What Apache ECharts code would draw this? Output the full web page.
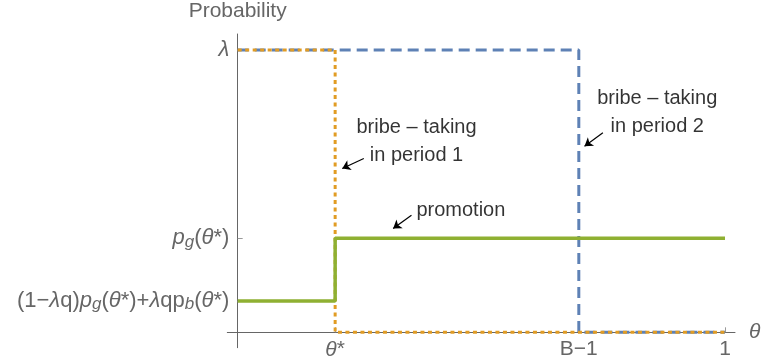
<!DOCTYPE html>
<html>
<head>
<meta charset="utf-8">
<script src="https://cdn.jsdelivr.net/npm/echarts@6/dist/echarts.min.js"></script>
<style>
  html, body { margin: 0; padding: 0; background: #fff; }
  #chart { width: 762px; height: 364px; }
</style>
</head>
<body>
<div id="chart"></div>
<script>
// levels (lambda normalised to 1)
const lambda = 1;
const pgLevel = 0.333;
const lowLevel = 0.111;
const thetaStar = 0.2;
const bMinus1 = 0.7;

// step curves
const period1 = [[0, lambda], [thetaStar, lambda], [thetaStar, 0], [1, 0]];
const period2 = [[0, lambda], [bMinus1, lambda], [bMinus1, 0], [1, 0]];
const promotion = [[0, lowLevel], [thetaStar, lowLevel], [thetaStar, pgLevel], [1, pgLevel]];

// ticks
const xTicks = [thetaStar, bMinus1, 1];
const xTickLabels = ['{i|θ}{n|*}', '{n|B−1}', '{n|1}'];
const yTicks = [lowLevel, pgLevel, lambda];
const yTickLabels = [
  '{n|(1−}{i|λ}{n|q)}{i|p}{sub|g}{n|(}{i|θ}{n|*)+}{i|λ}{n|qp}{sub|b}{n|(}{i|θ}{n|*)}',
  '{i|p}{sub|g}{n|(}{i|θ}{n|*)}',
  '{i|λ}'
];

// annotations (data coords)
const notes = [
  { name: 'bribe – taking\nin period 1', value: [0.367, 0.676] },
  { name: 'bribe – taking\nin period 2', value: [0.861, 0.778] },
  { name: 'promotion', value: [0.458, 0.433] }
];
const arrows = [
  [[0.2588, 0.6160], [0.2146, 0.5805]],
  [[0.7494, 0.7068], [0.7117, 0.6596]],
  [[0.3566, 0.4149], [0.3190, 0.3677]]
];

const font = 'Liberation Sans, Arial, sans-serif';
const grey = '#666666';
function richFor(size, subSize) {
  return {
    n: { fontFamily: font, fontSize: size, color: grey, lineHeight: 24 },
    i: { fontFamily: font, fontSize: size, color: grey, fontStyle: 'italic', lineHeight: 24 },
    sub: { fontFamily: font, fontSize: subSize, color: grey, fontStyle: 'italic', lineHeight: 14, verticalAlign: 'bottom' }
  };
}

const chart = echarts.init(document.getElementById('chart'), null, { renderer: 'canvas' });

chart.setOption({
  animation: false,
  backgroundColor: '#fff',
  grid: { left: 227.3, right: 27, top: 34, bottom: 16.3, containLabel: false, outerBoundsMode: 'none' },
  xAxis: {
    type: 'value',
    min: -0.0213,
    max: 1.0205,
    name: 'θ',
    nameLocation: 'end',
    nameGap: 14,
    nameTextStyle: { fontFamily: font, fontSize: 21, color: grey, fontStyle: 'italic', align: 'left', verticalAlign: 'middle' },
    splitLine: { show: false },
    axisLine: { onZero: true, lineStyle: { color: grey, width: 1 } },
    axisTick: { inside: true, length: 5, customValues: xTicks, lineStyle: { color: '#999' } },
    axisLabel: {
      customValues: xTicks,
      margin: -10,
      formatter: v => xTickLabels[xTicks.indexOf(v)] || '',
      rich: richFor(21, 15)
    }
  },
  yAxis: {
    type: 'value',
    min: -0.0545,
    max: 1.057,
    name: 'Probability',
    nameLocation: 'end',
    nameGap: 12,
    nameTextStyle: { fontFamily: font, fontSize: 21, color: grey, align: 'center', verticalAlign: 'bottom' },
    splitLine: { show: false },
    axisLine: { onZero: true, lineStyle: { color: grey, width: 1 } },
    axisTick: { inside: true, length: 5, customValues: yTicks, lineStyle: { color: '#999' } },
    axisLabel: {
      customValues: yTicks,
      margin: -2,
      formatter: v => yTickLabels[yTicks.indexOf(v)] || '',
      rich: richFor(22, 17)
    }
  },
  series: [
    {
      name: 'period 2',
      type: 'line',
      data: period2,
      showSymbol: false,
      symbol: 'none',
      lineStyle: { color: '#5E81B5', width: 3, type: [11, 6] },
      z: 2
    },
    {
      name: 'period 1',
      type: 'line',
      data: period1,
      showSymbol: false,
      symbol: 'none',
      lineStyle: { color: '#E19C24', width: 3, type: [4, 3.5] },
      z: 3
    },
    {
      name: 'promotion',
      type: 'line',
      data: promotion,
      showSymbol: false,
      symbol: 'none',
      lineStyle: { color: '#8FB032', width: 3.5 },
      z: 4
    },
    {
      type: 'lines',
      coordinateSystem: 'cartesian2d',
      data: arrows.map(c => ({ coords: c })),
      symbol: ['none', 'arrow'],
      symbolSize: 8,
      lineStyle: { color: '#000', width: 1.2, opacity: 1 },
      z: 5
    },
    {
      type: 'scatter',
      data: notes,
      symbolSize: 0,
      label: {
        show: true,
        position: 'inside',
        formatter: p => p.name,
        fontFamily: font,
        fontSize: 20,
        color: '#000',
        lineHeight: 28,
        align: 'center',
        verticalAlign: 'middle'
      },
      z: 5
    }
  ]
});
</script>
</body>
</html>
